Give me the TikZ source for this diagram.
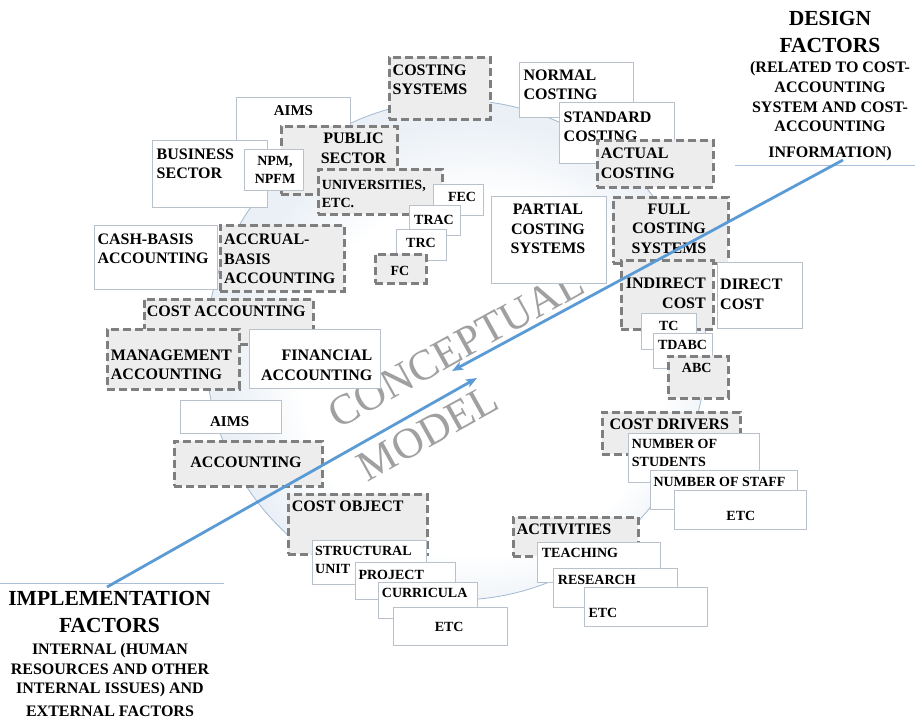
\documentclass[tikz,border=0pt]{standalone}
\usepackage{fontspec}
\setmainfont{Liberation Serif}
\usetikzlibrary{arrows.meta}
\definecolor{ringblue}{HTML}{EAF0F6}
\definecolor{ringline}{HTML}{A3B9D2}
\definecolor{boxline}{HTML}{B9C2CC}
\definecolor{dashline}{HTML}{7F7F7F}
\definecolor{dashfill}{HTML}{EDEDED}
\definecolor{arrowblue}{HTML}{5B9BD5}
\definecolor{wmark}{HTML}{A0A0A0}
\definecolor{ulblue}{HTML}{A9C0DA}
\pgfdeclareradialshading{ringshade}{\pgfpoint{4bp}{-4bp}}{color(0bp)=(white); color(18bp)=(white); color(25bp)=(ringblue); color(50bp)=(ringblue)}
\newcommand\bx[6]{\node[#1,minimum width={#4pt-#2pt},minimum height={#5pt-#3pt}] (#6) at (#2,#3) {};}
\begin{document}
\begin{tikzpicture}[x=1pt,y=-1pt,
  wbox/.style={draw=boxline, line width=1pt, fill=white, inner sep=0pt, anchor=north west},
  dbox/.style={draw=dashline, line width=2.6pt, dash pattern=on 8pt off 4pt, fill=dashfill, inner sep=0pt, anchor=north west},
  big/.style={font=\fontsize{16}{19.5}\selectfont\bfseries, inner sep=0pt, text=black},
  mid/.style={font=\fontsize{15}{18}\selectfont\bfseries, inner sep=0pt, text=black},
  small/.style={font=\fontsize{14}{18}\selectfont\bfseries, inner sep=0pt, text=black},
  head/.style={font=\fontsize{21.5}{27}\selectfont\bfseries, inner sep=0pt, align=center},
  sub/.style={font=\fontsize{16}{19.6}\selectfont\bfseries, inner sep=0pt, align=center},
  ringstroke/.style={draw=ringline, line width=0.8pt},
  uline/.style={draw=ulblue, line width=0.9pt},
  bluearrow/.style={draw=arrowblue, line width=2.8pt, -{Stealth[length=11pt,width=8.5pt,inset=2.5pt]}},
  wm/.style={font=\fontsize{43}{50}\selectfont, text=wmark, inner sep=0pt, rotate=29}
]
\useasboundingbox (0,0) rectangle (915,719);
\fill[white] (0,0) rectangle (915,719);

% ring
\shade[shading=ringshade] (456,350) circle (250);
\draw[ringstroke] (456,350) circle (250);

% watermark
\node[wm] (concept) at (456,348) {CONCEPTUAL};
\node[wm] (model) at (428,433) {MODEL};

% underlines
\coordinate (dl1) at (735,165);
\coordinate (dl2) at (915,165);
\draw[uline] (dl1) -- (dl2);
\coordinate (il1) at (0,583);
\coordinate (il2) at (224,583);
\draw[uline] (il1) -- (il2);

% top-left cluster
\bx{wbox}{236}{97}{350}{155}{aimsA}
\node[mid] (aimsA-t) at (293.5,111) {AIMS};
\bx{wbox}{152}{140}{267}{207}{bus}
\node[big,anchor=west,align=left] (bus-t) at (156.5,163.7) {BUSINESS\\SECTOR};
\bx{dbox}{280}{125}{396}{193}{pub}
\node[big,align=center] (pub-t) at (353.5,148.3) {PUBLIC\\SECTOR};
\bx{wbox}{244}{149}{303}{190}{npm}
\node[small,align=center] (npm-t) at (275,169.5) {NPM,\\NPFM};
\bx{dbox}{317}{168}{441}{213}{univ}
\node[small,anchor=west,align=left] (univ-t) at (321.7,194) {UNIVERSITIES,\\ETC.};
\bx{wbox}{433}{184}{483}{215}{fec}
\node[small] (fec-t) at (462,196.7) {FEC};
\bx{wbox}{409}{205}{460}{235}{trac}
\node[small] (trac-t) at (434,220) {TRAC};
\bx{wbox}{396}{229}{446}{260}{trc}
\node[small] (trc-t) at (421,243.3) {TRC};
\bx{dbox}{374}{253}{425}{282}{fc}
\node[small] (fc-t) at (400,270.7) {FC};

% accounting bases
\bx{wbox}{94}{225}{217}{289}{cash}
\node[big,anchor=west,align=left] (cash-t) at (97.3,248.8) {CASH-BASIS\\ACCOUNTING};
\bx{dbox}{219}{224}{343}{290}{accr}
\node[big,anchor=west,align=left] (accr-t) at (224,259.2) {ACCRUAL-\\BASIS\\ACCOUNTING};

% accounting types
\bx{dbox}{143}{298}{312}{343}{costacc}
\node[big,anchor=west] (costacc-t) at (146.7,311.7) {COST ACCOUNTING};
\bx{dbox}{106}{328}{238}{388}{mgmt}
\node[big,anchor=west,align=left] (mgmt-t) at (110.7,365) {MANAGEMENT\\ACCOUNTING};
\bx{wbox}{249}{329}{380}{388}{fin}
\node[big,anchor=east,align=right] (fin-t) at (372.5,365.5) {FINANCIAL\\ACCOUNTING};
\bx{wbox}{180}{400}{281}{433}{aimsB}
\node[mid] (aimsB-t) at (229.7,421.7) {AIMS};
\bx{dbox}{173}{440}{321}{485}{acc}
\node[big] (acc-t) at (246,462.7) {ACCOUNTING};

% costing systems
\bx{dbox}{388}{56}{489}{118}{cost}
\node[big,anchor=west,align=left] (cost-t) at (392.5,80) {COSTING\\SYSTEMS};
\bx{wbox}{519}{62}{633}{117}{normal}
\node[big,anchor=west,align=left] (normal-t) at (523.3,84.7) {NORMAL\\COSTING};
\bx{wbox}{559}{102}{674}{163}{standard}
\node[big,anchor=west,align=left] (standard-t) at (563.5,127) {STANDARD\\COSTING};
\bx{dbox}{596}{139}{712}{186}{actual}
\node[big,anchor=west,align=left] (actual-t) at (600.7,163.3) {ACTUAL\\COSTING};
\bx{wbox}{491}{196}{606}{283}{partial}
\node[big,align=center] (partial-t) at (548,229.2) {PARTIAL\\COSTING\\SYSTEMS};
\bx{dbox}{612}{196}{727}{262}{full}
\node[big,align=center] (full-t) at (669,228.8) {FULL\\COSTING\\SYSTEMS};
\bx{dbox}{620}{259}{712}{328}{indirect}
\node[big,anchor=east,align=right] (indirect-t) at (706,293.3) {INDIRECT\\COST};
\bx{wbox}{717}{262}{802}{328}{direct}
\node[big,anchor=west,align=left] (direct-t) at (720,294.5) {DIRECT\\COST};
\bx{wbox}{641}{313}{696}{349}{tc}
\node[small] (tc-t) at (668.8,325.7) {TC};
\bx{wbox}{653}{333}{712}{368}{tdabc}
\node[small] (tdabc-t) at (682.5,345.3) {TDABC};
\bx{dbox}{667}{355}{727}{397}{abc}
\node[small] (abc-t) at (696.7,367.7) {ABC};

% cost drivers
\bx{dbox}{601}{411}{739}{453}{drivers}
\node[big,anchor=west] (drivers-t) at (609.3,424) {COST DRIVERS};
\bx{wbox}{628}{433}{759}{482}{students}
\node[small,anchor=west,align=left] (students-t) at (631.7,452.9) {NUMBER OF\\STUDENTS};
\bx{wbox}{650}{470}{797}{509}{staff}
\node[small,anchor=west] (staff-t) at (653.3,481.7) {NUMBER OF STAFF};
\bx{wbox}{674}{490}{806}{529}{etcA}
\node[small] (etcA-t) at (740.8,516) {ETC};

% activities
\bx{dbox}{512}{516}{637}{555}{activities}
\node[big,anchor=west] (activities-t) at (516.7,529.3) {ACTIVITIES};
\bx{wbox}{537}{542}{660}{582}{teaching}
\node[small,anchor=west] (teaching-t) at (541.7,553.3) {TEACHING};
\bx{wbox}{553}{568}{677}{607}{research}
\node[small,anchor=west] (research-t) at (557.7,580) {RESEARCH};
\bx{wbox}{584}{587}{707}{626}{etcB}
\node[small,anchor=west] (etcB-t) at (588.3,613.3) {ETC};

% cost object
\bx{dbox}{287}{493}{426}{553}{costobj}
\node[big,anchor=west] (costobj-t) at (291.7,506.7) {COST OBJECT};
\bx{wbox}{312}{540}{426}{584}{struct}
\node[small,anchor=west,align=left] (struct-t) at (315,560.2) {STRUCTURAL\\UNIT};
\bx{wbox}{355}{562}{455}{599}{project}
\node[small,anchor=west] (project-t) at (358.3,575) {PROJECT};
\bx{wbox}{378}{582}{477}{618}{curricula}
\node[small,anchor=west] (curricula-t) at (381.7,593.3) {CURRICULA};
\bx{wbox}{393}{607}{507}{645}{etcC}
\node[small] (etcC-t) at (449.2,626.7) {ETC};

% factor labels
\node[head] (design) at (830,32.3) {DESIGN\\FACTORS};
\node[sub] (designsub) at (830,111.5) {(RELATED TO COST-\\ACCOUNTING\\SYSTEM AND COST-\\ACCOUNTING\\[6.5pt]INFORMATION)};
\node[head] (impl) at (109.5,612) {IMPLEMENTATION\\FACTORS};
\node[sub] (implsub) at (110,680.3) {INTERNAL (HUMAN\\RESOURCES AND OTHER\\INTERNAL ISSUES) AND\\[3.5pt]EXTERNAL FACTORS};

% arrows
\coordinate (dstart) at (843,160);
\coordinate (dtip) at (452,371);
\coordinate (istart) at (107,587);
\coordinate (itip) at (477,378);
\draw[bluearrow] (dstart) -- (dtip);
\draw[bluearrow] (istart) -- (itip);
\end{tikzpicture}
\end{document}
